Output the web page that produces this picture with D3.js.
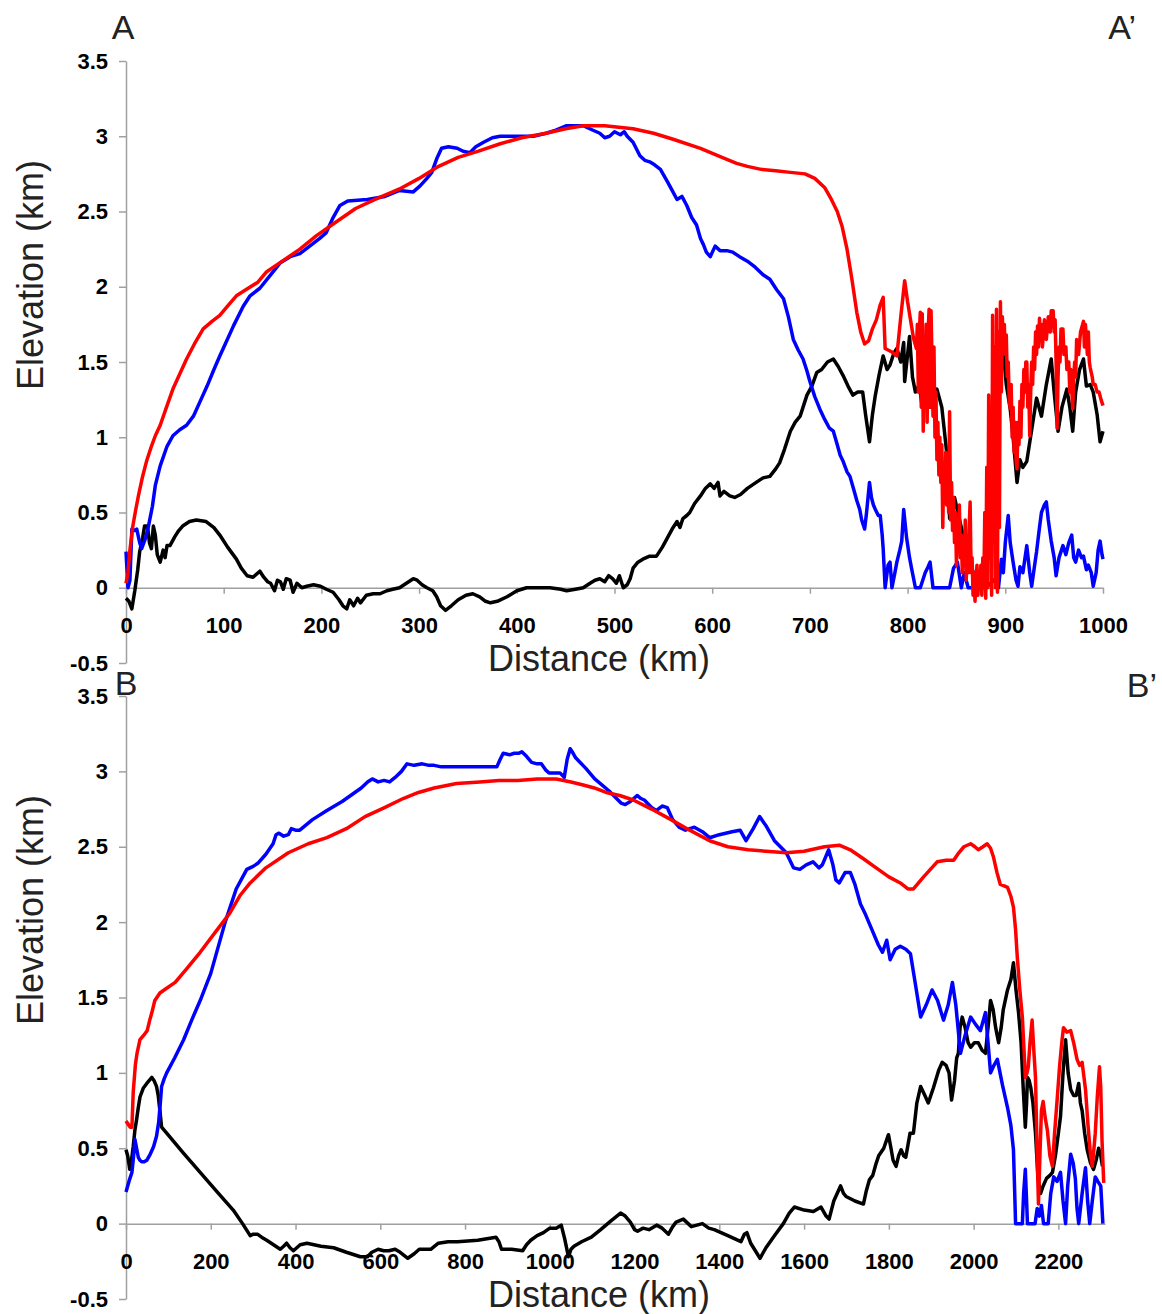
<!DOCTYPE html>
<html>
<head>
<meta charset="utf-8">
<script src="https://cdn.jsdelivr.net/npm/d3@7"></script>
<style>
    body { margin: 0; background: #fff; }
    svg { display: block; font-family: "Liberation Sans", Arial, sans-serif; }
    .axis .tick text { font-family: "Liberation Sans", Arial, sans-serif; font-weight: bold; font-size: 22px; fill: #000; }
    .axis path, .axis line { stroke: #a0a0a0; stroke-width: 1.5; }
    .axisTitle { font-size: 36px; fill: #222; }
    .panelLetter { font-size: 34px; fill: #222; }
</style>
</head>
<body>
<svg id="chart" width="1162" height="1314"></svg>
<script>

//tick values for both panels
const elevTicks = [-0.5, 0, 0.5, 1, 1.5, 2, 2.5, 3, 3.5];
const kmTicksA = [0, 100, 200, 300, 400, 500, 600, 700, 800, 900, 1000];
const kmTicksB = [0, 200, 400, 600, 800, 1000, 1200, 1400, 1600, 1800, 2000, 2200];

//Profile A-A' : [distance km, elevation km]
const profileA_black = [[0,-0.07],[3,-0.09],[6,-0.14],[9,-0.02],[12,0.12],[14,0.24],[17,0.33],[19,0.41],[22,0.41],[24,0.3],[26,0.26],[28,0.41],[30,0.35],[32,0.22],[35,0.17],[38,0.25],[40,0.2],[42,0.28],[45,0.28],[50,0.34],[54,0.38],[58,0.41],[65,0.44],[72,0.45],[82,0.44],[90,0.4],[96,0.35],[104,0.27],[113,0.19],[118,0.13],[124,0.08],[130,0.07],[137,0.11],[141,0.07],[145,0.04],[148,0.03],[152,-0.02],[155,0.05],[158,0.04],[161,-0.01],[164,0.06],[168,0.05],[171,-0.03],[175,0.03],[180,0.0],[185,0.01],[192,0.02],[199,0.01],[205,-0.01],[212,-0.03],[218,-0.08],[222,-0.12],[226,-0.14],[229,-0.08],[233,-0.12],[237,-0.07],[240,-0.1],[246,-0.05],[253,-0.04],[260,-0.04],[267,-0.02],[273,-0.01],[280,0.0],[287,0.03],[294,0.06],[298,0.05],[303,0.02],[308,0.0],[314,-0.02],[318,-0.06],[322,-0.12],[327,-0.15],[333,-0.12],[340,-0.08],[348,-0.05],[355,-0.04],[362,-0.06],[368,-0.09],[373,-0.1],[380,-0.09],[390,-0.06],[400,-0.02],[410,0.0],[422,0.0],[434,0.0],[445,-0.01],[451,-0.02],[460,-0.01],[468,0.0],[475,0.03],[480,0.05],[485,0.06],[490,0.04],[494,0.08],[498,0.06],[502,0.03],[505,0.08],[509,0.0],[513,0.02],[516,0.06],[519,0.13],[524,0.17],[529,0.19],[536,0.21],[543,0.21],[549,0.27],[554,0.33],[559,0.39],[564,0.44],[567,0.4],[570,0.46],[574,0.48],[577,0.5],[582,0.56],[588,0.61],[593,0.66],[598,0.69],[602,0.66],[606,0.7],[608,0.61],[612,0.64],[618,0.61],[623,0.6],[629,0.62],[636,0.66],[645,0.7],[652,0.73],[659,0.74],[665,0.79],[669,0.83],[674,0.92],[680,1.04],[685,1.1],[690,1.14],[694,1.22],[697,1.28],[702,1.34],[707,1.43],[712,1.45],[718,1.5],[724,1.52],[729,1.47],[734,1.41],[739,1.34],[744,1.28],[749,1.3],[754,1.3],[757,1.15],[761,0.97],[764,1.15],[767,1.28],[771,1.42],[775,1.54],[779,1.45],[782,1.48],[786,1.56],[789,1.59],[793,1.5],[796,1.63],[797,1.37],[800,1.55],[802,1.67],[805,1.4],[808,1.3],[812,1.35],[815,1.2],[819,1.22],[823,1.2],[826,1.25],[830,1.32],[835,1.2],[840,0.9],[843,0.46],[848,0.6],[855,0.4],[862,0.2],[870,0.05],[878,0.1],[884,0.5],[888,1.0],[892,1.3],[896,1.5],[898,1.57],[901,1.35],[905,1.19],[908,1.0],[912,0.7],[915,0.85],[918,0.8],[922,0.84],[927,1.05],[932,1.26],[937,1.14],[942,1.35],[947,1.52],[950,1.3],[954,1.04],[958,1.2],[963,1.32],[966,1.2],[969,1.04],[972,1.3],[976,1.45],[980,1.52],[983,1.34],[987,1.35],[990,1.3],[994,1.15],[997,0.97],[1000,1.04]];

const profileA_blue = [[0,0.24],[2,0.0],[4,0.05],[6,0.39],[9,0.38],[11,0.39],[14,0.3],[16,0.26],[20,0.33],[23,0.41],[27,0.54],[30,0.68],[35,0.81],[42,0.94],[48,1.01],[55,1.05],[62,1.08],[69,1.14],[76,1.24],[83,1.34],[90,1.45],[96,1.54],[103,1.64],[110,1.74],[120,1.87],[127,1.94],[137,1.99],[147,2.07],[158,2.16],[168,2.2],[178,2.22],[190,2.28],[198,2.32],[205,2.36],[212,2.46],[219,2.54],[227,2.57],[247,2.58],[265,2.6],[280,2.64],[294,2.63],[301,2.67],[308,2.72],[313,2.76],[318,2.85],[323,2.92],[330,2.93],[339,2.92],[345,2.9],[352,2.89],[358,2.93],[366,2.96],[375,2.99],[383,3.0],[400,3.0],[417,3.0],[430,3.02],[440,3.04],[451,3.07],[468,3.07],[478,3.04],[485,3.02],[490,2.99],[495,3.0],[500,3.03],[506,3.01],[510,3.03],[513,3.0],[519,2.96],[526,2.87],[531,2.84],[536,2.83],[541,2.81],[547,2.78],[554,2.7],[559,2.64],[564,2.58],[569,2.6],[574,2.54],[579,2.46],[584,2.41],[588,2.32],[591,2.28],[594,2.23],[598,2.2],[603,2.27],[608,2.24],[615,2.24],[621,2.23],[628,2.2],[636,2.17],[644,2.13],[652,2.08],[659,2.05],[666,1.98],[673,1.92],[678,1.8],[683,1.65],[688,1.58],[693,1.52],[697,1.44],[700,1.37],[705,1.27],[710,1.19],[715,1.12],[720,1.06],[724,1.04],[728,0.95],[731,0.88],[734,0.84],[738,0.77],[741,0.74],[745,0.65],[748,0.58],[751,0.52],[753,0.45],[756,0.39],[758,0.5],[761,0.7],[763,0.6],[765,0.55],[767,0.52],[770,0.48],[772,0.48],[774,0.35],[775,0.26],[777,0.0],[780,0.15],[782,0.17],[784,0.0],[787,0.1],[789,0.17],[792,0.25],[794,0.31],[796,0.52],[799,0.33],[802,0.2],[804,0.13],[808,0.0],[813,0.0],[818,0.1],[821,0.14],[823,0.17],[826,0.0],[843,0.0],[847,0.13],[851,0.17],[855,0.0],[858,0.1],[862,0.0],[880,0.0],[885,0.03],[890,0.06],[893,0.0],[896,0.19],[898,0.1],[900,0.3],[903,0.48],[905,0.3],[908,0.17],[911,0.05],[913,0.01],[915,0.14],[918,0.1],[922,0.28],[925,0.1],[927,0.01],[930,0.15],[932,0.24],[935,0.4],[937,0.5],[940,0.55],[942,0.57],[944,0.45],[947,0.31],[950,0.2],[952,0.08],[955,0.2],[959,0.28],[962,0.22],[965,0.3],[968,0.35],[970,0.2],[972,0.17],[975,0.25],[978,0.2],[980,0.21],[983,0.12],[985,0.15],[988,0.1],[990,0.01],[993,0.1],[995,0.25],[997,0.31],[999,0.22],[1000,0.19]];

const profileA_red = [[0,0.03],[2,0.1],[4,0.25],[7,0.41],[10,0.52],[13,0.62],[17,0.74],[21,0.84],[26,0.94],[30,1.01],[35,1.08],[42,1.21],[48,1.32],[55,1.42],[62,1.52],[70,1.62],[79,1.72],[88,1.77],[96,1.81],[105,1.88],[113,1.94],[125,1.99],[135,2.03],[144,2.1],[160,2.17],[178,2.25],[195,2.34],[215,2.43],[235,2.52],[255,2.58],[280,2.65],[300,2.72],[320,2.8],[340,2.86],[360,2.9],[383,2.95],[405,2.99],[430,3.02],[450,3.05],[468,3.07],[490,3.07],[519,3.05],[540,3.02],[560,2.98],[588,2.92],[610,2.86],[625,2.82],[636,2.8],[650,2.78],[665,2.77],[680,2.76],[695,2.75],[705,2.72],[715,2.66],[722,2.58],[728,2.5],[733,2.4],[738,2.25],[743,2.05],[748,1.83],[752,1.7],[756,1.62],[760,1.64],[764,1.72],[768,1.78],[772,1.88],[775,1.93],[777,1.59],[783,1.57],[789,1.54],[793,1.8],[797,2.04],[800,1.9],[803,1.78],[806,1.66],[809,1.59],[810,1.75],[811,1.3],[812,1.7],[813,1.83],[814,1.2],[815,1.82],[816,1.04],[817,1.6],[818,1.4],[819,1.75],[820,1.1],[821,1.7],[822,1.85],[823,1.2],[824,1.84],[825,1.5],[826,1.14],[827,1.6],[828,1.0],[829,1.3],[830,0.85],[831,1.1],[832,0.75],[833,1.0],[834,0.7],[835,0.95],[836,0.4],[837,0.8],[838,0.6],[839,0.9],[840,0.55],[841,0.75],[842,0.5],[843,1.17],[844,0.45],[845,0.7],[846,0.38],[847,0.6],[848,0.3],[849,0.5],[850,0.15],[851,0.4],[852,0.25],[853,0.55],[854,0.2],[855,0.35],[856,0.1],[857,0.3],[858,0.15],[859,0.45],[860,0.05],[861,0.25],[862,0.1],[863,0.4],[864,0.57],[865,0.1],[866,0.2],[867,-0.05],[868,0.1],[869,-0.09],[870,0.05],[871,0.15],[872,-0.05],[873,0.1],[874,0.0],[875,0.15],[876,-0.05],[877,0.2],[878,0.0],[879,0.5],[880,-0.07],[881,0.8],[882,0.0],[883,1.28],[884,0.2],[885,1.1],[886,-0.05],[887,1.81],[888,0.3],[889,1.6],[890,0.0],[891,1.85],[892,-0.03],[893,1.7],[894,0.4],[895,1.9],[896,1.3],[897,1.8],[898,1.6],[899,1.75],[900,1.55],[901,1.68],[902,1.4],[903,1.5],[904,1.25],[905,1.19],[906,1.35],[907,1.0],[908,1.2],[909,0.9],[910,1.1],[911,0.85],[912,0.79],[913,1.1],[914,0.95],[915,1.24],[916,1.0],[917,1.35],[918,1.2],[919,1.45],[920,1.3],[921,1.5],[922,1.5],[923,1.2],[924,1.35],[925,1.01],[926,1.3],[927,1.5],[928,1.35],[929,1.6],[930,1.45],[931,1.7],[932,1.55],[933,1.74],[934,1.6],[935,1.79],[936,1.65],[937,1.75],[938,1.6],[940,1.78],[942,1.65],[944,1.8],[946,1.7],[947,1.84],[949,1.84],[950,1.7],[951,1.78],[952,1.5],[953,1.06],[954,1.4],[955,1.6],[956,1.5],[957,1.72],[959,1.72],[960,1.55],[962,1.6],[963,1.45],[965,1.5],[966,1.3],[967,1.45],[969,1.19],[970,1.4],[971,1.5],[972,1.4],[973,1.65],[975,1.55],[977,1.7],[980,1.77],[981,1.6],[982,1.75],[984,1.55],[985,1.7],[986,1.5],[987,1.46],[989,1.4],[990,1.35],[992,1.35],[994,1.3],[996,1.3],[998,1.25],[1000,1.21]];

//Profile B-B'
const profileB_black = [[0,0.49],[4,0.45],[9,0.36],[13,0.42],[17,0.51],[21,0.62],[25,0.69],[29,0.77],[33,0.84],[41,0.9],[49,0.93],[55,0.95],[61,0.97],[66,0.95],[72,0.91],[76,0.85],[80,0.75],[84,0.64],[90,0.62],[96,0.6],[135,0.47],[175,0.34],[215,0.21],[253,0.09],[275,0.0],[293,-0.08],[300,-0.07],[310,-0.07],[320,-0.09],[332,-0.11],[348,-0.14],[364,-0.17],[372,-0.15],[379,-0.13],[387,-0.16],[395,-0.18],[403,-0.16],[411,-0.14],[427,-0.13],[460,-0.15],[490,-0.16],[520,-0.19],[553,-0.22],[570,-0.22],[580,-0.19],[595,-0.17],[608,-0.18],[620,-0.18],[635,-0.17],[647,-0.19],[665,-0.23],[680,-0.2],[692,-0.17],[705,-0.17],[719,-0.17],[737,-0.13],[760,-0.12],[782,-0.12],[830,-0.11],[873,-0.09],[880,-0.12],[886,-0.17],[910,-0.17],[936,-0.18],[945,-0.14],[955,-0.11],[970,-0.08],[985,-0.06],[1000,-0.03],[1015,-0.03],[1027,-0.01],[1035,-0.1],[1044,-0.22],[1050,-0.17],[1057,-0.15],[1075,-0.12],[1098,-0.09],[1120,-0.04],[1145,0.02],[1167,0.07],[1178,0.05],[1190,0.01],[1200,-0.04],[1207,-0.05],[1220,-0.03],[1234,-0.04],[1252,-0.01],[1265,-0.03],[1280,-0.07],[1290,-0.02],[1298,0.01],[1315,0.03],[1334,-0.02],[1347,-0.01],[1360,0.0],[1375,-0.03],[1388,-0.04],[1420,-0.08],[1451,-0.12],[1459,-0.07],[1465,-0.06],[1474,-0.13],[1485,-0.18],[1496,-0.23],[1510,-0.16],[1530,-0.08],[1551,0.0],[1565,0.07],[1577,0.11],[1600,0.09],[1622,0.08],[1640,0.11],[1652,0.05],[1659,0.03],[1670,0.15],[1686,0.25],[1693,0.2],[1699,0.18],[1720,0.15],[1740,0.13],[1747,0.22],[1754,0.29],[1762,0.32],[1770,0.4],[1776,0.45],[1788,0.5],[1799,0.59],[1805,0.5],[1810,0.42],[1817,0.38],[1823,0.45],[1829,0.49],[1835,0.45],[1840,0.44],[1850,0.6],[1858,0.6],[1866,0.8],[1875,0.91],[1885,0.85],[1893,0.8],[1905,0.9],[1918,1.02],[1926,1.07],[1935,1.05],[1942,1.0],[1948,0.82],[1955,0.95],[1960,1.1],[1964,1.13],[1968,1.3],[1973,1.37],[1980,1.3],[1987,1.2],[1993,1.17],[2002,1.2],[2011,1.2],[2020,1.15],[2028,1.13],[2034,1.3],[2040,1.48],[2046,1.42],[2052,1.3],[2059,1.2],[2065,1.3],[2070,1.42],[2080,1.55],[2088,1.62],[2094,1.73],[2100,1.55],[2106,1.4],[2112,1.2],[2117,0.9],[2122,0.64],[2125,0.8],[2127,0.97],[2131,0.95],[2135,0.9],[2140,0.8],[2146,0.6],[2152,0.3],[2158,0.2],[2164,0.25],[2172,0.3],[2180,0.32],[2186,0.34],[2193,0.45],[2200,0.6],[2205,0.71],[2211,1.0],[2217,1.22],[2223,1.0],[2229,0.89],[2236,0.85],[2242,0.85],[2248,0.93],[2252,0.8],[2256,0.75],[2262,0.6],[2268,0.49],[2276,0.4],[2283,0.36],[2289,0.42],[2295,0.5],[2300,0.45],[2304,0.38]];

const profileB_blue = [[0,0.21],[7,0.28],[14,0.34],[18,0.45],[21,0.56],[25,0.5],[29,0.44],[33,0.42],[37,0.41],[43,0.41],[49,0.42],[57,0.46],[65,0.51],[72,0.58],[77,0.67],[81,0.8],[84,0.91],[90,0.96],[96,1.0],[115,1.1],[136,1.22],[155,1.35],[175,1.48],[200,1.66],[234,2.0],[260,2.22],[285,2.35],[300,2.37],[311,2.39],[330,2.45],[347,2.52],[354,2.58],[361,2.59],[372,2.57],[383,2.58],[390,2.62],[400,2.61],[410,2.61],[440,2.68],[474,2.74],[510,2.8],[540,2.86],[555,2.89],[570,2.93],[581,2.95],[595,2.93],[609,2.94],[622,2.93],[635,2.96],[650,3.0],[663,3.05],[680,3.04],[699,3.05],[715,3.04],[727,3.04],[744,3.03],[790,3.03],[835,3.03],[875,3.03],[883,3.08],[890,3.12],[905,3.11],[916,3.12],[926,3.12],[934,3.13],[945,3.1],[957,3.06],[970,3.05],[980,3.05],[990,3.01],[998,2.99],[1024,2.99],[1034,2.96],[1041,3.08],[1048,3.15],[1055,3.12],[1061,3.09],[1085,3.02],[1106,2.95],[1140,2.87],[1168,2.79],[1178,2.78],[1190,2.8],[1206,2.84],[1215,2.82],[1223,2.81],[1240,2.76],[1251,2.74],[1265,2.77],[1277,2.76],[1290,2.68],[1305,2.63],[1320,2.61],[1341,2.63],[1360,2.6],[1377,2.56],[1400,2.58],[1430,2.6],[1449,2.61],[1455,2.58],[1463,2.54],[1480,2.62],[1495,2.7],[1510,2.64],[1530,2.54],[1558,2.46],[1575,2.36],[1590,2.35],[1605,2.38],[1621,2.4],[1635,2.36],[1643,2.38],[1658,2.48],[1668,2.38],[1675,2.28],[1683,2.26],[1697,2.33],[1709,2.33],[1720,2.25],[1733,2.12],[1745,2.05],[1760,1.95],[1775,1.85],[1785,1.8],[1795,1.88],[1803,1.75],[1815,1.82],[1827,1.84],[1840,1.82],[1851,1.79],[1862,1.6],[1875,1.37],[1888,1.45],[1902,1.55],[1915,1.48],[1929,1.35],[1940,1.45],[1950,1.6],[1958,1.45],[1969,1.13],[1980,1.25],[1993,1.37],[2005,1.32],[2016,1.28],[2028,1.4],[2034,1.2],[2040,1.0],[2048,1.05],[2056,1.09],[2068,0.92],[2080,0.77],[2088,0.65],[2094,0.49],[2097,0.2],[2099,0.0],[2115,0.0],[2118,0.2],[2122,0.36],[2125,0.15],[2127,0.0],[2145,0.0],[2150,0.1],[2155,0.05],[2160,0.12],[2165,0.0],[2176,0.0],[2182,0.2],[2189,0.31],[2197,0.28],[2205,0.34],[2211,0.15],[2217,0.0],[2222,0.25],[2229,0.46],[2235,0.4],[2240,0.3],[2244,0.1],[2248,0.0],[2256,0.2],[2264,0.37],[2269,0.15],[2274,0.0],[2280,0.15],[2287,0.31],[2293,0.28],[2300,0.25],[2305,0.0]];

const profileB_red = [[0,0.68],[5,0.66],[10,0.64],[14,0.64],[17,0.87],[22,1.05],[26,1.13],[33,1.22],[42,1.25],[50,1.28],[56,1.35],[61,1.4],[68,1.48],[80,1.53],[95,1.56],[116,1.6],[140,1.68],[175,1.8],[210,1.93],[245,2.06],[270,2.18],[293,2.26],[330,2.36],[383,2.46],[430,2.52],[474,2.56],[520,2.62],[564,2.7],[610,2.76],[654,2.82],[690,2.86],[727,2.89],[780,2.92],[835,2.93],[880,2.94],[925,2.94],[970,2.95],[1015,2.95],[1050,2.93],[1079,2.91],[1105,2.89],[1133,2.86],[1165,2.84],[1197,2.81],[1240,2.75],[1286,2.68],[1330,2.61],[1377,2.54],[1420,2.5],[1468,2.48],[1510,2.47],[1558,2.46],[1600,2.47],[1648,2.5],[1683,2.51],[1709,2.48],[1740,2.42],[1770,2.36],[1800,2.3],[1827,2.26],[1845,2.22],[1858,2.22],[1870,2.26],[1882,2.3],[1898,2.35],[1914,2.4],[1935,2.41],[1953,2.41],[1965,2.46],[1977,2.5],[1993,2.52],[2003,2.5],[2011,2.48],[2022,2.5],[2032,2.52],[2040,2.49],[2047,2.43],[2055,2.33],[2063,2.25],[2072,2.24],[2080,2.23],[2088,2.17],[2094,2.1],[2099,1.95],[2103,1.77],[2109,1.55],[2115,1.37],[2119,1.15],[2122,0.97],[2126,1.0],[2129,1.04],[2133,1.2],[2138,1.35],[2142,1.15],[2146,0.97],[2150,0.45],[2153,0.13],[2157,0.5],[2160,0.75],[2164,0.81],[2169,0.7],[2174,0.62],[2180,0.45],[2186,0.38],[2191,0.6],[2197,0.82],[2203,1.05],[2208,1.2],[2212,1.3],[2220,1.27],[2229,1.28],[2236,1.2],[2244,1.09],[2250,1.05],[2256,1.07],[2260,0.98],[2264,0.89],[2270,0.65],[2276,0.45],[2280,0.38],[2284,0.5],[2287,0.6],[2292,0.85],[2297,1.04],[2300,0.9],[2303,0.55],[2307,0.27]];


class ProfileChart {

    //one panel of the figure, placed by its pixel box
    constructor(opts){
        this.left = 126;
        this.right = opts.right;
        this.top = opts.top;
        this.bottom = opts.bottom;
        this.kmMax = opts.kmMax;
        this.kmTicks = opts.kmTicks;
        this.series = opts.series;
        this.letters = opts.letters;
    };

    create (svg) {
        let x = d3.scaleLinear()
            .domain([0, this.kmMax])
            .range([this.left, this.right]);

        let y = d3.scaleLinear()
            .domain([-0.5, 3.5])
            .range([this.bottom, this.top]);

        let g = svg.append("g");

        //elevation axis
        g.append("g")
            .attr("class", "axis")
            .attr("transform", "translate(" + this.left + ",0)")
            .call(d3.axisLeft(y).tickValues(elevTicks).tickSize(7).tickSizeOuter(0).tickPadding(11).tickFormat(d => String(d)));

        //distance axis sits on the zero line
        g.append("g")
            .attr("class", "axis")
            .attr("transform", "translate(0," + y(0) + ")")
            .call(d3.axisBottom(x).tickValues(this.kmTicks).tickSize(6).tickSizeOuter(0).tickPadding(24).tickFormat(d => String(d)));

        let line = d3.line()
            .x(d => x(d[0]))
            .y(d => y(d[1]));

        g.selectAll("path.profile")
            .data(this.series)
            .enter().append("path")
            .attr("class", "profile")
            .attr("fill", "none")
            .attr("stroke", d => d.color)
            .attr("stroke-width", 3.5)
            .attr("stroke-linejoin", "round")
            .attr("d", d => line(d.values));

        //axis titles
        g.append("text")
            .attr("class", "axisTitle")
            .attr("text-anchor", "middle")
            .attr("x", 599)
            .attr("y", y(0) + 83)
            .text("Distance (km)");

        g.append("text")
            .attr("class", "axisTitle")
            .attr("text-anchor", "middle")
            .attr("transform", "translate(43," + (this.top + 214) + ") rotate(-90)")
            .text("Elevation (km)");

        //section end letters
        g.selectAll("text.panelLetter")
            .data(this.letters)
            .enter().append("text")
            .attr("class", "panelLetter")
            .attr("text-anchor", d => d.anchor)
            .attr("x", d => d.x)
            .attr("y", d => d.y)
            .text(d => d.label);
    };
}

let svg = d3.select("#chart");

new ProfileChart({
    right: 1103, top: 61, bottom: 663, kmMax: 1000, kmTicks: kmTicksA,
    series: [
        {color: "#000000", values: profileA_black},
        {color: "#0000ff", values: profileA_blue},
        {color: "#ff0000", values: profileA_red}
    ],
    letters: [
        {label: "A", x: 123, y: 39, anchor: "middle"},
        {label: "A\u2019", x: 1136, y: 39, anchor: "end"}
    ]
}).create(svg);

new ProfileChart({
    right: 1105, top: 696, bottom: 1299, kmMax: 2310, kmTicks: kmTicksB,
    series: [
        {color: "#000000", values: profileB_black},
        {color: "#0000ff", values: profileB_blue},
        {color: "#ff0000", values: profileB_red}
    ],
    letters: [
        {label: "B", x: 126, y: 695, anchor: "middle"},
        {label: "B\u2019", x: 1157, y: 697, anchor: "end"}
    ]
}).create(svg);

</script>
</body>
</html>
